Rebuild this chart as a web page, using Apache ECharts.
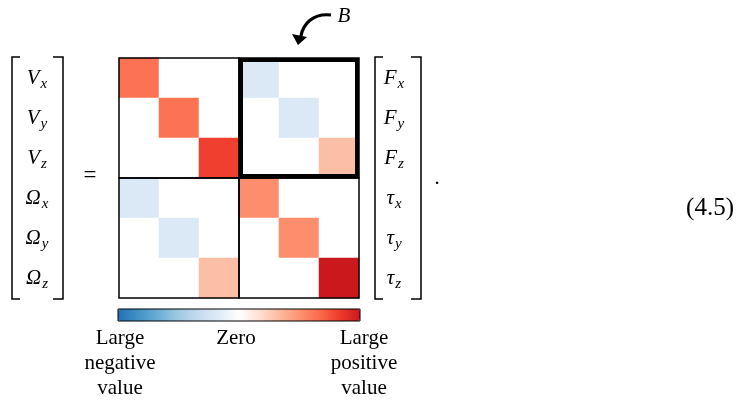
<!DOCTYPE html>
<html><head><meta charset="utf-8">
<script src="https://cdn.jsdelivr.net/npm/echarts@6/dist/echarts.min.js"></script>
<style>html,body{margin:0;padding:0;background:#fff}#c{width:745px;height:400px}</style>
</head><body><div id="c"></div>
<script>
// ---- data ----
const outputLabels = ['V_x', 'V_y', 'V_z', 'Ω_x', 'Ω_y', 'Ω_z'];
const inputLabels = ['F_x', 'F_y', 'F_z', 'τ_x', 'τ_y', 'τ_z'];
const row0 = [0.63, 0, 0, -0.19, 0, 0];
const row1 = [0, 0.63, 0, 0, -0.19, 0];
const row2 = [0, 0, 0.82, 0, 0, 0.32];
const row3 = [-0.19, 0, 0, 0.52, 0, 0];
const row4 = [0, -0.19, 0, 0, 0.52, 0];
const row5 = [0, 0, 0.32, 0, 0, 1.0];
const matrixRows = [row0, row1, row2, row3, row4, row5];
const colorStops = ['#2171b5', '#4292c6', '#6baed6', '#9ecae1', '#c6dbef', '#deebf7', '#ffffff',
                    '#fee0d2', '#fcbba1', '#fc9272', '#fb6a4a', '#ef3b2c', '#cb181d'];
const colorbarLabels = ['Large\nnegative\nvalue', 'Zero', 'Large\npositive\nvalue'];
const equationNumber = '(4.5)';
const blockLabel = 'B';

const data = [];
matrixRows.forEach((row, r) => row.forEach((v, c) => data.push([c, r, v])));

const SERIF = '"Liberation Serif", "DejaVu Serif", serif';
function vecLabel(s) { const p = s.split('_'); return '{m|' + p[0] + '}{s|' + p[1] + '}'; }
const rich = {
  m: { fontFamily: SERIF, fontStyle: 'italic', fontSize: 21, color: '#000' },
  s: { fontFamily: SERIF, fontStyle: 'italic', fontSize: 15, color: '#000', padding: [12, 0, 0, 1] }
};

const CB = { left: 118, top: 309, len: 242, thick: 12 };

const chart = echarts.init(document.getElementById('c'), null, { renderer: 'canvas' });
chart.setOption({
  animation: false,
  backgroundColor: '#fff',
  grid: { left: 119, top: 58, width: 240, height: 240 },
  xAxis: { type: 'category', data: inputLabels, show: false },
  yAxis: [
    { type: 'category', data: outputLabels, inverse: true, position: 'left',
      axisLine: { show: false }, axisTick: { show: false }, splitLine: { show: false },
      axisLabel: { formatter: vecLabel, rich: rich, align: 'center', margin: 82 } },
    { type: 'category', data: inputLabels, inverse: true, position: 'right',
      axisLine: { show: false }, axisTick: { show: false }, splitLine: { show: false },
      axisLabel: { formatter: vecLabel, rich: rich, align: 'center', margin: 35 } }
  ],
  visualMap: {
    type: 'continuous', min: -1, max: 1, orient: 'horizontal', calculable: false,
    left: CB.left, top: CB.top, itemWidth: CB.thick, itemHeight: CB.len, padding: 0,
    inRange: { color: colorStops }, seriesIndex: 0, hoverLink: false
  },
  series: [{
    type: 'heatmap', data: data, xAxisIndex: 0, yAxisIndex: 0,
    itemStyle: { borderWidth: 0 }, emphasis: { disabled: true }, progressive: 0
  }]
});

// frame decorations placed from the library's scales
const p0 = chart.convertToPixel({ gridIndex: 0 }, [0, 0]);
const p1 = chart.convertToPixel({ gridIndex: 0 }, [1, 1]);
const cw = p1[0] - p0[0], ch = p1[1] - p0[1];
const x0 = p0[0] - cw / 2, y0 = p0[1] - ch / 2;
const g = [];
for (let bi = 0; bi < 2; bi++) for (let bj = 0; bj < 2; bj++) {
  g.push({ type: 'rect', z: 100, shape: { x: x0 + 3 * cw * bj, y: y0 + 3 * ch * bi, width: 3 * cw, height: 3 * ch },
    style: { fill: null, stroke: '#000', lineWidth: 1.5 } });
}
g.push({ type: 'rect', z: 101, shape: { x: x0 + 3 * cw + 2, y: y0 + 2, width: 3 * cw - 4, height: 3 * ch - 4 },
  style: { fill: null, stroke: '#000', lineWidth: 4 } });
// brackets
const bt = y0 - 1, bb = y0 + 6 * ch + 1;
function bracket(xo, xi) { return { type: 'polyline', z: 100, shape: { points: [[xi, bt], [xo, bt], [xo, bb], [xi, bb]] }, style: { stroke: '#000', lineWidth: 1.5, fill: null } }; }
g.push(bracket(12, 20), bracket(63, 53), bracket(375, 383), bracket(421, 411));
// texts
const txt = (x, y, t, extra) => Object.assign({ type: 'text', z: 100, x: x, y: y,
  style: Object.assign({ text: t, fontFamily: SERIF, fontSize: 21, fill: '#000', align: 'center', verticalAlign: 'middle' }, extra || {}) });
g.push(txt(90, 176, '=', { fontSize: 23 }));
g.push(txt(437, 178.5, '.'));
g.push(txt(710, 208, equationNumber, { fontSize: 25 }));
g.push(txt(344, 16, blockLabel, { fontStyle: 'italic' }));
// arrow
g.push({ type: 'bezierCurve', z: 100, shape: { x1: 331, y1: 15, cpx1: 313, cpy1: 13, cpx2: 303, cpy2: 24, x2: 301, y2: 36 },
  style: { stroke: '#000', lineWidth: 3.2, fill: null } });
g.push({ type: 'polygon', z: 100, shape: { points: [[298, 45], [292, 34], [307, 37]] }, style: { fill: '#000' } });
// colorbar frame and labels
g.push({ type: 'rect', z: 100, shape: { x: CB.left, y: CB.top, width: CB.len, height: CB.thick },
  style: { fill: null, stroke: '#000', lineWidth: 1 } });
const lblX = [CB.left + 2, CB.left + CB.len / 2 - 3, CB.left + CB.len + 4];
colorbarLabels.forEach((t, i) => g.push(txt(lblX[i], 326, t, { verticalAlign: 'top', lineHeight: 25 })));
chart.setOption({ graphic: g });
</script></body></html>
